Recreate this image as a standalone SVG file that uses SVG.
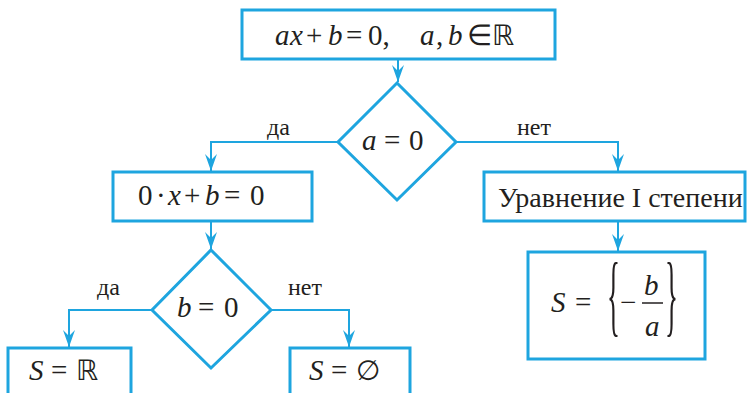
<svg xmlns="http://www.w3.org/2000/svg" width="747" height="393" viewBox="0 0 747 393">
<defs>
<marker id="ah" viewBox="-18 -8 20 16" markerWidth="20" markerHeight="16" refX="0" refY="0" markerUnits="userSpaceOnUse" orient="auto">
<path d="M0,0 L-17,-6 L-11,0 L-17,6 Z" fill="#1ea5df"/>
</marker>
</defs>
<rect width="747" height="393" fill="#fff"/>

<g id="connectors" fill="none" stroke="#1ea5df" stroke-width="2">
<path d="M398,59 V82" marker-end="url(#ah)"/>
<path d="M338,142 H211 V171" marker-end="url(#ah)"/>
<path d="M457,142 H618 V171" marker-end="url(#ah)"/>
<path d="M211,221 V249" marker-end="url(#ah)"/>
<path d="M152,310 H69 V347" marker-end="url(#ah)"/>
<path d="M272,310 H349 V347" marker-end="url(#ah)"/>
<path d="M618,221 V251" marker-end="url(#ah)"/>
</g>
<g id="labels">
<text x="267" y="135" font-family="Liberation Serif" font-size="24" fill="#231f20">да</text>
<text x="517" y="135" font-family="Liberation Serif" font-size="24" fill="#231f20">нет</text>
<text x="97" y="295" font-family="Liberation Serif" font-size="24" fill="#231f20">да</text>
<text x="288" y="295" font-family="Liberation Serif" font-size="24" fill="#231f20">нет</text>
</g>

<g id="start">
<rect x="242" y="10" width="313" height="49" fill="#fff" stroke="#1ea5df" stroke-width="3"/>
<text y="45" font-family="Liberation Serif" font-size="29" fill="#231f20"><tspan font-style="italic" x="275">a</tspan><tspan font-style="italic" x="290">x</tspan><tspan x="306">+</tspan><tspan font-style="italic" x="328">b</tspan><tspan x="346">=</tspan><tspan x="368">0,</tspan><tspan font-style="italic" x="420">a</tspan><tspan x="436">,</tspan><tspan font-style="italic" x="448">b</tspan><tspan x="467">∈</tspan></text>
<text x="492" y="45" font-family="DejaVu Sans" font-size="28" fill="#231f20">ℝ</text>
</g>

<g id="cond-a">
<polygon points="397,83 456,142 397,200 338,142" fill="#fff" stroke="#1ea5df" stroke-width="3"/>
<text y="150" font-family="Liberation Serif" font-size="29" fill="#231f20"><tspan font-style="italic" x="362">a</tspan><tspan x="384">=</tspan><tspan x="409">0</tspan></text>
</g>

<g id="eq-b">
<rect x="113" y="172" width="199" height="49" fill="#fff" stroke="#1ea5df" stroke-width="3"/>
<text y="205" font-family="Liberation Serif" font-size="29" fill="#231f20"><tspan x="138">0</tspan><tspan x="156">·</tspan><tspan font-style="italic" x="168">x</tspan><tspan x="184">+</tspan><tspan font-style="italic" x="205">b</tspan><tspan x="224">=</tspan><tspan x="250">0</tspan></text>
</g>

<g id="linear">
<rect x="484" y="172" width="261" height="49" fill="#fff" stroke="#1ea5df" stroke-width="3"/>
<text x="498" y="207" font-family="Liberation Serif" font-size="28" fill="#231f20">Уравнение I степени</text>
</g>

<g id="cond-b">
<polygon points="211,250 271,310 211,368 152,310" fill="#fff" stroke="#1ea5df" stroke-width="3"/>
<text y="317" font-family="Liberation Serif" font-size="29" fill="#231f20"><tspan font-style="italic" x="177">b</tspan><tspan x="198">=</tspan><tspan x="224">0</tspan></text>
</g>

<g id="all-real">
<rect x="8" y="348" width="123" height="60" fill="#fff" stroke="#1ea5df" stroke-width="3"/>
<text x="29" y="380" font-family="Liberation Serif" font-size="29" font-style="italic" fill="#231f20">S</text>
<text x="51" y="380" font-family="Liberation Serif" font-size="29" fill="#231f20">=</text>
<text x="76" y="380" font-family="DejaVu Sans" font-size="28" fill="#231f20">ℝ</text>
</g>

<g id="empty">
<rect x="290" y="348" width="120" height="60" fill="#fff" stroke="#1ea5df" stroke-width="3"/>
<text x="309" y="380" font-family="Liberation Serif" font-size="29" font-style="italic" fill="#231f20">S</text>
<text x="331" y="380" font-family="Liberation Serif" font-size="29" fill="#231f20">=</text>
<text x="356" y="380" font-family="DejaVu Sans" font-size="28" fill="#231f20">∅</text>
</g>

<g id="solution">
<rect x="528" y="252" width="177" height="107" fill="#fff" stroke="#1ea5df" stroke-width="3"/>
<text x="551" y="312" font-family="Liberation Serif" font-size="29" font-style="italic" fill="#231f20">S</text>
<text x="575" y="312" font-family="Liberation Serif" font-size="29" fill="#231f20">=</text>
<text font-family="Liberation Serif" font-size="90" fill="#231f20" transform="translate(607,325) scale(0.3,1)">{</text>
<text x="620" y="312" font-family="Liberation Serif" font-size="29" fill="#231f20">−</text>
<text x="644" y="295" font-family="Liberation Serif" font-size="29" font-style="italic" fill="#231f20">b</text>
<line x1="642" y1="303" x2="663" y2="303" stroke="#231f20" stroke-width="1.5"/>
<text x="645" y="336" font-family="Liberation Serif" font-size="29" font-style="italic" fill="#231f20">a</text>
<text font-family="Liberation Serif" font-size="90" fill="#231f20" transform="translate(665,325) scale(0.3,1)">}</text>
</g>
</svg>
